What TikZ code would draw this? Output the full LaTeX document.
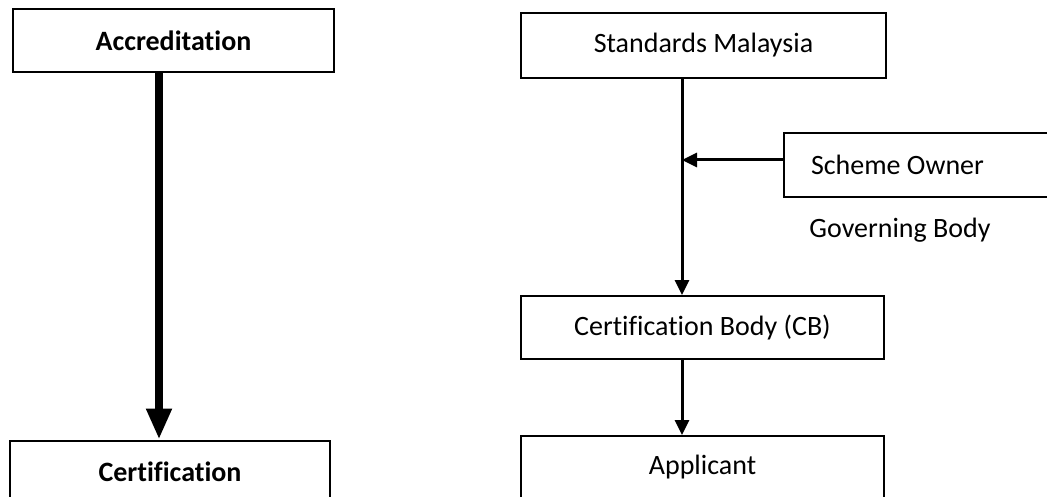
\documentclass[tikz,border=0pt]{standalone}
\usepackage{fontspec}
\setmainfont{Carlito}[RawFeature=-liga]
\usetikzlibrary{arrows.meta}
\begin{document}
\begin{tikzpicture}[x=1pt,y=-1pt,
    box/.style={draw,line width=2pt,minimum height=63pt,inner sep=0pt,
        font=\fontsize{28}{34}\selectfont},
    thin/.style={line width=3pt,-{Triangle[width=14pt,length=15pt]}},
    thick/.style={line width=8pt,-{Triangle[width=24pt,length=31pt]}}]
    \clip (0,0) rectangle (1047,497);
    \fill[white] (0,0) rectangle (1047,497);
    % left side
    \node[box,minimum width=321pt,font=\fontsize{28}{34}\selectfont\bfseries] (Acc) at (173.5,41) {Accreditation};
    \node[box,minimum width=320pt,font=\fontsize{28}{34}\selectfont\bfseries] (Cert) at (170,472) {Certification};
    % right side
    \node[box,minimum width=365pt,minimum height=65pt] (SM) at (703.5,45.5) {Standards Malaysia};
    \node[box,anchor=west,text width=255pt,inner xsep=27pt,align=flush left,minimum height=64pt] (SO) at (783,165) {Scheme Owner};
    \node[font=\fontsize{28}{34}\selectfont] (GB) at (900,230) {Governing Body};
    \node[box,minimum width=363pt] (CB) at (702.5,327.5) {Certification Body (CB)};
    \node[box,minimum width=363pt] (App) at (702.5,467.5) {Applicant};
    \coordinate (J) at (682,160);
    \draw[thick] ([xshift=-14.5pt]Acc.south) -- ([xshift=-11pt]Cert.north);
    \draw[line width=3pt] ([xshift=-21.5pt]SM.south) -- (J);
    \draw[thin] (J) -- ([xshift=-20.5pt]CB.north);
    \draw[thin] (SO.west |- J) -- (J);
    \draw[thin] ([xshift=-20.5pt]CB.south) -- ([xshift=-20.5pt]App.north);
\end{tikzpicture}
\end{document}
